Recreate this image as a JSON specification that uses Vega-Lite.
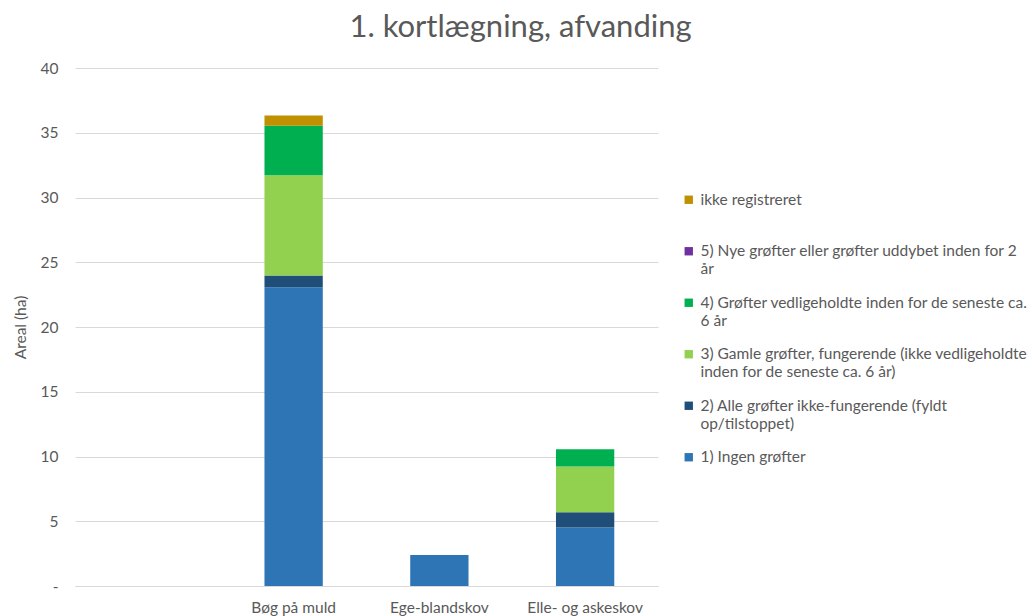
{
  "$schema": "https://vega.github.io/schema/vega-lite/v6.json",
  "width": 583,
  "height": 518,
  "autosize": {"type": "pad"},
  "padding": {"left": 13, "top": 12, "right": 5, "bottom": 5},
  "title": {"text": "1. kortlægning, afvanding", "fontSize": 31, "font": "Lato", "fontWeight": "normal", "color": "#595959", "anchor": "middle", "frame": "bounds", "offset": 17},
  "config": {"view": {"stroke": null}, "font": "Lato"},
  "data": {"values": [
    {"skovtype": "Bøg på muld", "kategori": "1) Ingen grøfter", "areal": 23.07},
    {"skovtype": "Bøg på muld", "kategori": "2) Alle grøfter ikke-fungerende (fyldt op/tilstoppet)", "areal": 0.9},
    {"skovtype": "Bøg på muld", "kategori": "3) Gamle grøfter, fungerende (ikke vedligeholdte inden for de seneste ca. 6 år)", "areal": 7.74},
    {"skovtype": "Bøg på muld", "kategori": "4) Grøfter vedligeholdte inden for de seneste ca. 6 år", "areal": 3.83},
    {"skovtype": "Bøg på muld", "kategori": "ikke registreret", "areal": 0.8},
    {"skovtype": "Ege-blandskov", "kategori": "1) Ingen grøfter", "areal": 2.4},
    {"skovtype": "Elle- og askeskov", "kategori": "1) Ingen grøfter", "areal": 4.51},
    {"skovtype": "Elle- og askeskov", "kategori": "2) Alle grøfter ikke-fungerende (fyldt op/tilstoppet)", "areal": 1.18},
    {"skovtype": "Elle- og askeskov", "kategori": "3) Gamle grøfter, fungerende (ikke vedligeholdte inden for de seneste ca. 6 år)", "areal": 3.54},
    {"skovtype": "Elle- og askeskov", "kategori": "4) Grøfter vedligeholdte inden for de seneste ca. 6 år", "areal": 1.33}
  ]},
  "mark": {"type": "bar"},
  "encoding": {
    "x": {
      "field": "skovtype", "type": "nominal",
      "scale": {"domain": [" ", "Bøg på muld", "Ege-blandskov", "Elle- og askeskov"], "paddingInner": 0.6, "paddingOuter": 0.3},
      "axis": {"title": null, "labelAngle": 0, "ticks": false, "domainColor": "#D9D9D9", "labelColor": "#595959", "labelFontSize": 15.5, "labelPadding": 14, "labelFont": "Lato"}
    },
    "y": {
      "field": "areal", "type": "quantitative", "stack": "zero",
      "scale": {"domain": [0, 40], "nice": false},
      "axis": {"title": "Areal (ha)", "titleFontSize": 15.5, "titleFontWeight": "normal", "titleColor": "#595959", "titleFont": "Lato", "titlePadding": 12,
        "values": [0, 5, 10, 15, 20, 25, 30, 35, 40], "labelExpr": "datum.value == 0 ? '-' : datum.label",
        "ticks": false, "domain": false, "gridColor": "#D9D9D9", "labelColor": "#595959", "labelFontSize": 15.5, "labelPadding": 17, "labelFont": "Lato"}
    },
    "color": {
      "field": "kategori", "type": "nominal",
      "scale": {
        "domain": ["ikke registreret", "5) Nye grøfter eller grøfter uddybet inden for 2 år", "4) Grøfter vedligeholdte inden for de seneste ca. 6 år", "3) Gamle grøfter, fungerende (ikke vedligeholdte inden for de seneste ca. 6 år)", "2) Alle grøfter ikke-fungerende (fyldt op/tilstoppet)", "1) Ingen grøfter"],
        "range": ["#BF9000", "#7030A0", "#00B050", "#92D050", "#1F4E79", "#2E75B6"]
      },
      "legend": {
        "title": null, "orient": "none", "legendX": 606, "legendY": 124,
        "symbolType": "square", "symbolSize": 70, "symbolStrokeWidth": 0,
        "labelFontSize": 15.5, "labelColor": "#595959", "labelFont": "Lato", "labelLimit": 400, "rowPadding": 16.5, "labelOffset": 4,
        "labelExpr": "substring(datum.label,0,1) == 'i' ? ['ikke registreret', ''] : substring(datum.label,0,1) == '5' ? ['5) Nye grøfter eller grøfter uddybet inden for 2', 'år'] : substring(datum.label,0,1) == '4' ? ['4) Grøfter vedligeholdte inden for de seneste ca.', '6 år'] : substring(datum.label,0,1) == '3' ? ['3) Gamle grøfter, fungerende (ikke vedligeholdte', 'inden for de seneste ca. 6 år)'] : substring(datum.label,0,1) == '2' ? ['2) Alle grøfter ikke-fungerende (fyldt', 'op/tilstoppet)'] : datum.label",
        "encode": {"labels": {"update": {"lineHeight": {"value": 18}}}}
      }
    },
    "order": {"field": "kategori", "sort": "ascending"}
  }
}
